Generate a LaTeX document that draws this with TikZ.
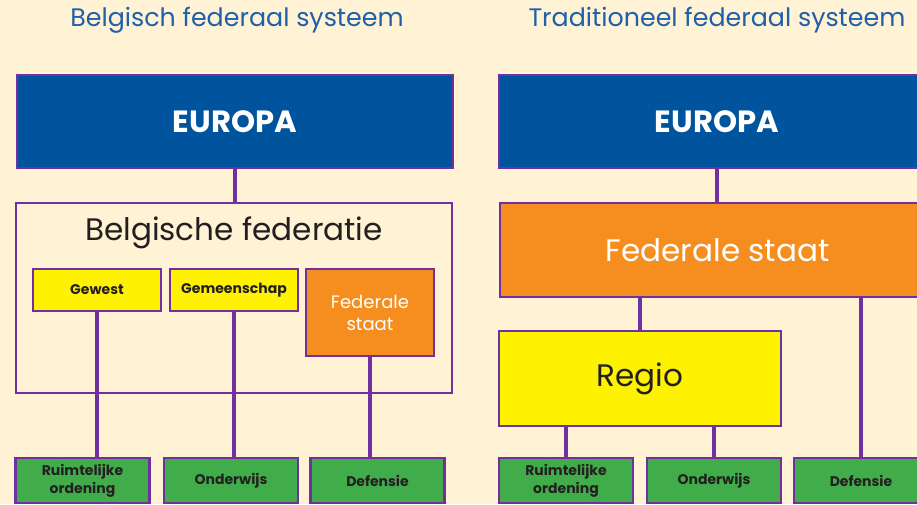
\documentclass[tikz,border=0pt]{standalone}
\usepackage{fontspec}
\setmainfont{Poppins}
\usepackage{tikz}
\usetikzlibrary{arrows}
\definecolor{cbg}{RGB}{255,242,213}
\definecolor{cblue}{RGB}{0,83,157}
\definecolor{cpurple}{RGB}{112,48,160}
\definecolor{cyellow}{RGB}{255,242,0}
\definecolor{corange}{RGB}{246,142,31}
\definecolor{cgreen}{RGB}{64,173,74}
\definecolor{ctitle}{RGB}{31,96,170}
\definecolor{ctext}{RGB}{35,31,32}

\begin{document}
\begin{tikzpicture}[x=0.75pt,y=-0.75pt,
  box node/.style={draw=cpurple,line width=2.2pt,inner sep=0pt,align=center,text=ctext},
  europa node/.style={box node,fill=cblue,text=white,minimum width=327pt,minimum height=69.75pt,
        font=\bfseries\fontsize{23}{27}\selectfont},
  level node/.style={box node,font=\bfseries\fontsize{10.5}{13}\selectfont,line width=1.6pt,
        minimum width=96pt,minimum height=31.5pt,fill=cyellow},
  green node/.style={box node,fill=cgreen,line width=1.6pt,minimum width=100.5pt,minimum height=33.75pt,
        font=\bfseries\fontsize{10.5}{13.3}\selectfont},
  title node/.style={text=ctitle,font=\fontsize{19}{23}\selectfont},
  big node/.style={box node,font=\fontsize{23.3}{28}\selectfont},
  link/.style={draw=cpurple,line width=2.4pt}]
  \useasboundingbox (0,0) rectangle (917,504);
  \fill[cbg] (0,0) rectangle (917,504);
  \clip (0,0) rectangle (917,504);

  % Belgisch federaal systeem
  \node[title node] (title1) at (237,20) {Belgisch federaal systeem};
  \node[europa node] (eu1) at (235,121.5) {EUROPA};
  \node[box node,minimum width=327pt,minimum height=142.5pt] (fed1) at (234,298) {};
  \node[big node,draw=none] (fedtext) at (234,233) {Belgische federatie};
  \node[level node] (gewest) at (97,290) {Gewest};
  \node[level node] (gemeen) at (234,290) {Gemeenschap};
  \node[level node,fill=corange,text=white,minimum height=65.25pt,
        font=\fontsize{13.5}{16.5}\selectfont] (staat1) at (370,312.5) {Federale\\staat};
  \node[green node] (ro1) at (82.5,480.5) {Ruimtelijke\\ordening};
  \node[green node] (ow1) at (231,480.5) {Onderwijs};
  \node[green node] (def1) at (377.5,480.5) {Defensie};

  \draw[link] (eu1.south) -- (eu1.south |- fed1.north);
  \draw[link] (gewest.south) -- (gewest.south |- ro1.north);
  \draw[link] (gemeen.south) -- (gemeen.south |- ow1.north);
  \draw[link] (staat1.south) -- (staat1.south |- def1.north);

  % Traditioneel federaal systeem
  \node[title node] (title2) at (717,20) {Traditioneel federaal systeem};
  \node[europa node] (eu2) at (717,121.5) {EUROPA};
  \node[big node,fill=corange,text=white,minimum width=326.25pt,minimum height=70.5pt] (staat2) at (717.5,250) {Federale staat};
  \node[big node,fill=cyellow,minimum width=211.5pt,minimum height=71.25pt] (regio) at (640,378.5) {Regio};
  \node[green node] (ro2) at (566,480.5) {Ruimtelijke\\ordening};
  \node[green node] (ow2) at (714,480.5) {Onderwijs};
  \node[green node] (def2) at (861,480.5) {Defensie};

  \draw[link] (eu2.south) -- (eu2.south |- staat2.north);
  \draw[link] (regio.north |- staat2.south) -- (regio.north);
  \draw[link] (def2.north |- staat2.south) -- (def2.north);
  \draw[link] (ro2.north |- regio.south) -- (ro2.north);
  \draw[link] (ow2.north |- regio.south) -- (ow2.north);
\end{tikzpicture}
\end{document}
